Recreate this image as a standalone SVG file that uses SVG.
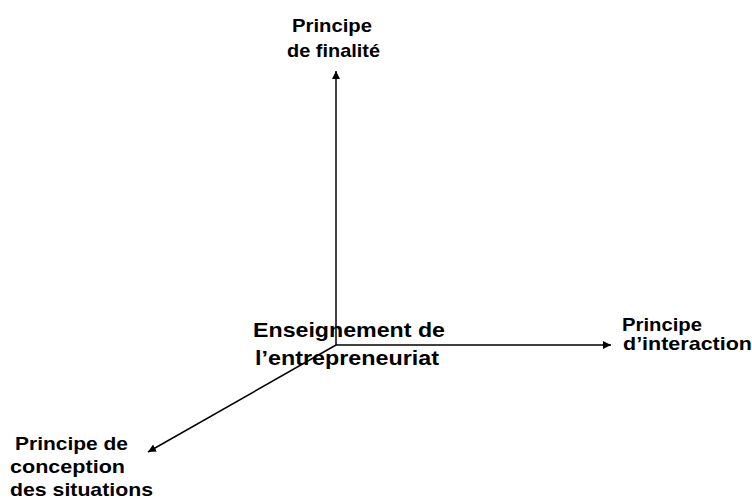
<svg xmlns="http://www.w3.org/2000/svg" width="752" height="502" viewBox="0 0 752 502">
<style>
text{font-family:"Liberation Sans",Arial,sans-serif;font-weight:bold;fill:#000;font-size:19px}
.big{font-size:21px}
line{stroke:#000;stroke-width:1.5}
</style>
<defs>
<marker id="ah" viewBox="0 0 10 10" refX="10" refY="5" markerWidth="8" markerHeight="8" markerUnits="userSpaceOnUse" orient="auto">
<path d="M0,0 L10,5 L0,10 Z" fill="#000"/>
</marker>
</defs>
<rect width="752" height="502" fill="#fff"/>
<g id="connectors">
<line x1="336" y1="345" x2="336" y2="71" marker-end="url(#ah)"/>
<line x1="336" y1="345" x2="611" y2="345" marker-end="url(#ah)"/>
<line x1="336" y1="345" x2="148" y2="452" marker-end="url(#ah)"/>
</g>
<g id="center">
<text class="big" x="253" y="337" textLength="192" lengthAdjust="spacingAndGlyphs">Enseignement de</text>
<text class="big" x="255" y="365" textLength="184" lengthAdjust="spacingAndGlyphs">l’entrepreneuriat</text>
</g>
<g id="finalite">
<text x="292" y="32" textLength="80" lengthAdjust="spacingAndGlyphs">Principe</text>
<text x="287" y="57" textLength="93" lengthAdjust="spacingAndGlyphs">de finalité</text>
</g>
<g id="interaction">
<text x="622" y="331" textLength="80" lengthAdjust="spacingAndGlyphs">Principe</text>
<text x="623" y="350" textLength="129" lengthAdjust="spacingAndGlyphs">d’interaction</text>
</g>
<g id="conception">
<text x="15" y="450" textLength="113" lengthAdjust="spacingAndGlyphs">Principe de</text>
<text x="10" y="473" textLength="115" lengthAdjust="spacingAndGlyphs">conception</text>
<text x="10" y="496" textLength="143" lengthAdjust="spacingAndGlyphs">des situations</text>
</g>
</svg>
